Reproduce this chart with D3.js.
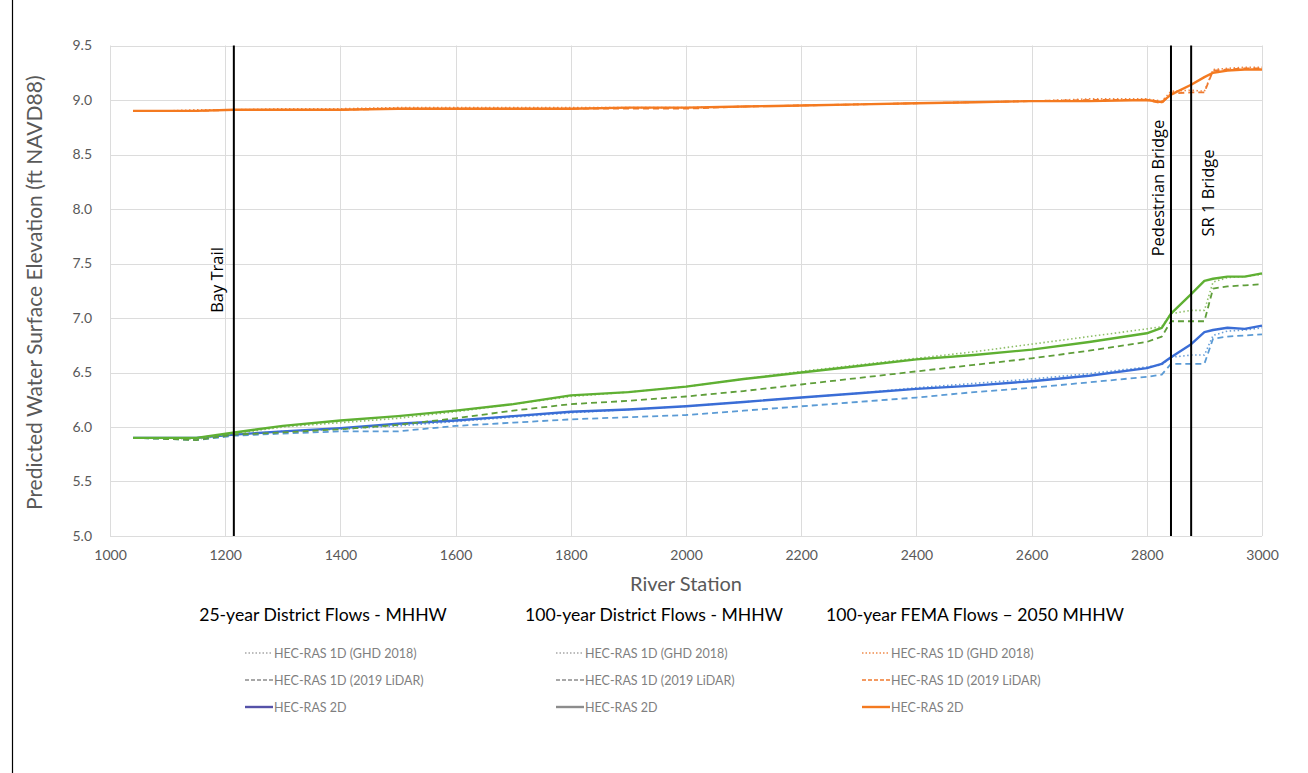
<!DOCTYPE html>
<html>
<head>
<meta charset="utf-8">
<script src="https://cdn.jsdelivr.net/npm/d3@7"></script>
<style>
  body { margin: 0; background: #fff; }
  svg { display: block; font-family: Lato, "Noto Sans", sans-serif; }
</style>
</head>
<body>
<svg width="1308" height="773"></svg>
<script>
// river stations shared by every series
const stations = [1040, 1100, 1150, 1216, 1300, 1400, 1500, 1600, 1700, 1800, 1900, 2000, 2100, 2200,
  2300, 2400, 2500, 2600, 2700, 2800, 2826, 2842, 2877, 2900, 2915, 2940, 2970, 3000];

// 25-year District Flows - MHHW (blue)
const blue2D   = [5.90, 5.90, 5.90, 5.93, 5.96, 5.99, 6.03, 6.06, 6.10, 6.14, 6.16, 6.19, 6.23, 6.27,
  6.31, 6.35, 6.38, 6.42, 6.47, 6.54, 6.58, 6.64, 6.76, 6.87, 6.89, 6.91, 6.90, 6.93];
const blueLidar = [5.90, 5.89, 5.88, 5.92, 5.94, 5.96, 5.96, 6.01, 6.04, 6.07, 6.09, 6.11, 6.15, 6.19,
  6.23, 6.27, 6.32, 6.36, 6.41, 6.46, 6.48, 6.58, 6.58, 6.58, 6.81, 6.83, 6.84, 6.85];
const blueGhd  = [5.90, 5.90, 5.89, 5.93, 5.96, 5.98, 6.01, 6.05, 6.09, 6.13, 6.16, 6.19, 6.23, 6.27,
  6.31, 6.36, 6.40, 6.44, 6.49, 6.55, 6.57, 6.64, 6.66, 6.66, 6.84, 6.88, 6.89, 6.91];

// 100-year District Flows - MHHW (green)
const green2D   = [5.90, 5.90, 5.90, 5.95, 6.01, 6.06, 6.10, 6.15, 6.21, 6.29, 6.32, 6.37, 6.44, 6.50,
  6.56, 6.62, 6.66, 6.71, 6.78, 6.86, 6.91, 7.04, 7.22, 7.34, 7.36, 7.38, 7.38, 7.41];
const greenLidar = [5.90, 5.89, 5.88, 5.93, 5.95, 5.98, 6.02, 6.08, 6.15, 6.21, 6.24, 6.28, 6.33, 6.39,
  6.45, 6.51, 6.57, 6.63, 6.70, 6.78, 6.83, 6.97, 6.97, 6.97, 7.27, 7.29, 7.30, 7.31];
const greenGhd  = [5.90, 5.90, 5.89, 5.94, 6.00, 6.04, 6.08, 6.14, 6.21, 6.28, 6.32, 6.37, 6.44, 6.51,
  6.57, 6.63, 6.69, 6.76, 6.83, 6.90, 6.92, 7.04, 7.07, 7.07, 7.33, 7.37, 7.38, 7.40];

// 100-year FEMA Flows - 2050 MHHW (orange)
const orange2D   = [8.90, 8.90, 8.90, 8.91, 8.91, 8.91, 8.92, 8.92, 8.92, 8.92, 8.93, 8.93, 8.94, 8.95,
  8.96, 8.97, 8.98, 8.99, 8.99, 9.00, 8.98, 9.05, 9.14, 9.21, 9.25, 9.27, 9.28, 9.28];
const orangeLidar = [8.90, 8.90, 8.90, 8.91, 8.91, 8.91, 8.92, 8.92, 8.92, 8.92, 8.92, 8.92, 8.94, 8.95,
  8.96, 8.97, 8.98, 8.99, 9.00, 9.00, 8.97, 9.06, 9.07, 9.07, 9.27, 9.28, 9.29, 9.29];
const orangeGhd  = [8.90, 8.90, 8.91, 8.91, 8.92, 8.92, 8.93, 8.93, 8.93, 8.93, 8.93, 8.93, 8.94, 8.95,
  8.96, 8.97, 8.98, 8.99, 9.01, 9.01, 8.99, 9.08, 9.09, 9.08, 9.28, 9.29, 9.30, 9.30];

const structures = ["Bay Trail", "Pedestrian Bridge", "SR 1 Bridge"];
const structureStations = [1215, 2842, 2877];

const xTicks = [1000, 1200, 1400, 1600, 1800, 2000, 2200, 2400, 2600, 2800, 3000];
const yTicks = [5.0, 5.5, 6.0, 6.5, 7.0, 7.5, 8.0, 8.5, 9.0, 9.5];

const legendGroups = ["25-year District Flows - MHHW", "100-year District Flows - MHHW", "100-year FEMA Flows \u2013 2050 MHHW"];
const legendItems = ["HEC-RAS 1D (GHD 2018)", "HEC-RAS 1D (2019 LiDAR)", "HEC-RAS 2D"];

const svg = d3.select("svg");
const plotLeft = 110, plotRight = 1262, plotTop = 45.5, plotBottom = 536;

const x = d3.scaleLinear().domain([1000, 3000]).range([plotLeft, plotRight]);
const y = d3.scaleLinear().domain([5, 9.5]).range([plotBottom, plotTop]);

// frame line on the left edge of the page
svg.append("line")
  .attr("x1", 12.5).attr("x2", 12.5).attr("y1", 0).attr("y2", 773)
  .attr("stroke", "#000").attr("stroke-width", 1.2);

// gridlines
svg.append("g").selectAll("line").data(yTicks).join("line")
  .attr("x1", plotLeft).attr("x2", plotRight)
  .attr("y1", d => Math.round(y(d)) + 0.5).attr("y2", d => Math.round(y(d)) + 0.5)
  .attr("stroke", "#dcdcdc");
svg.append("g").selectAll("line").data(xTicks).join("line")
  .attr("y1", plotTop).attr("y2", plotBottom)
  .attr("x1", d => Math.round(x(d)) + 0.5).attr("x2", d => Math.round(x(d)) + 0.5)
  .attr("stroke", "#dcdcdc");

// axes (labels only)
const yAxis = svg.append("g")
  .attr("transform", `translate(${plotLeft},0)`)
  .call(d3.axisLeft(y).tickValues(yTicks).tickFormat(d3.format(".1f")).tickSize(0).tickPadding(18));
const xAxis = svg.append("g")
  .attr("transform", `translate(0,${plotBottom})`)
  .call(d3.axisBottom(x).tickValues(xTicks).tickFormat(d3.format("d")).tickSize(0).tickPadding(14));
[yAxis, xAxis].forEach(a => {
  a.select(".domain").remove();
  a.selectAll("text").attr("font-family", "Lato, sans-serif").attr("font-size", 14).attr("fill", "#595959");
});

svg.append("text")
  .attr("transform", `translate(42,${(plotTop + plotBottom) / 2 + 2}) rotate(-90)`)
  .attr("text-anchor", "middle")
  .attr("font-size", 21).attr("fill", "#595959")
  .text("Predicted Water Surface Elevation (ft NAVD88)");

svg.append("text")
  .attr("x", (plotLeft + plotRight) / 2).attr("y", 591)
  .attr("text-anchor", "middle")
  .attr("font-size", 20).attr("fill", "#595959")
  .text("River Station");

// series
const series = [
  { values: blueGhd, color: "#6a9fd8", width: 1.6, dash: "1.5,2.5" },
  { values: blueLidar, color: "#5b9bd5", width: 1.8, dash: "6,4" },
  { values: blue2D, color: "#3a6dd6", width: 2.4, dash: null },
  { values: greenGhd, color: "#8fbf6a", width: 1.6, dash: "1.5,2.5" },
  { values: greenLidar, color: "#5f9e3a", width: 1.8, dash: "6,4" },
  { values: green2D, color: "#5fb033", width: 2.4, dash: null },
  { values: orangeGhd, color: "#f08a4b", width: 1.6, dash: "1.5,2.5" },
  { values: orangeLidar, color: "#ef7a2f", width: 1.8, dash: "6,4" },
  { values: orange2D, color: "#f47a20", width: 2.4, dash: null }
];

const line = d3.line()
  .x((d, i) => x(stations[i]))
  .y(d => y(d));

svg.append("g").selectAll("path").data(series).join("path")
  .attr("d", d => line(d.values))
  .attr("fill", "none")
  .attr("stroke", d => d.color)
  .attr("stroke-width", d => d.width)
  .attr("stroke-dasharray", d => d.dash)
  .attr("stroke-linejoin", "round");

// structure markers
const labelOffset = [-11, -7, 23];
const labelY = [280, 188, 193];
const markers = svg.append("g");
markers.selectAll("line").data(structureStations).join("line")
  .attr("x1", d => x(d)).attr("x2", d => x(d))
  .attr("y1", plotTop).attr("y2", plotBottom)
  .attr("stroke", "#000").attr("stroke-width", 2);
markers.selectAll("text").data(structures).join("text")
  .attr("transform", (d, i) => `translate(${x(structureStations[i]) + labelOffset[i]},${labelY[i]}) rotate(-90)`)
  .attr("text-anchor", "middle")
  .attr("font-family", "'Open Sans', sans-serif")
  .attr("font-size", 16.5).attr("fill", "#000")
  .text(d => d);

// legend
const groupCenters = [323, 654, 975];
const lineStarts = [245, 556, 862];
const lineLen = 28;
const rowY = [653, 680, 707];
const legendColors = [
  ["#a6a6a6", "#8c8c8c", "#5552a8"],
  ["#a6a6a6", "#8c8c8c", "#8c8c8c"],
  ["#f08a4b", "#ef7a2f", "#f47a20"]
];
const legendDash = ["1.5,2", "4,2", null];
const legendWidth = [1.3, 1.3, 2.4];

const legend = svg.append("g");
legend.selectAll("text.head").data(legendGroups).join("text")
  .attr("class", "head")
  .attr("x", (d, i) => groupCenters[i]).attr("y", 621)
  .attr("text-anchor", "middle")
  .attr("font-size", 17.6).attr("fill", "#000")
  .text(d => d);

legendGroups.forEach((g, gi) => {
  const col = legend.append("g");
  col.selectAll("line").data(legendItems).join("line")
    .attr("x1", lineStarts[gi]).attr("x2", lineStarts[gi] + lineLen)
    .attr("y1", (d, i) => rowY[i]).attr("y2", (d, i) => rowY[i])
    .attr("stroke", (d, i) => legendColors[gi][i])
    .attr("stroke-width", (d, i) => legendWidth[i])
    .attr("stroke-dasharray", (d, i) => legendDash[i]);
  col.selectAll("text").data(legendItems).join("text")
    .attr("x", lineStarts[gi] + lineLen + 1)
    .attr("y", (d, i) => rowY[i] + 4.5)
    .attr("font-size", 12.5).attr("fill", "#7f7f7f")
    .text(d => d);
});
</script>
</body>
</html>
